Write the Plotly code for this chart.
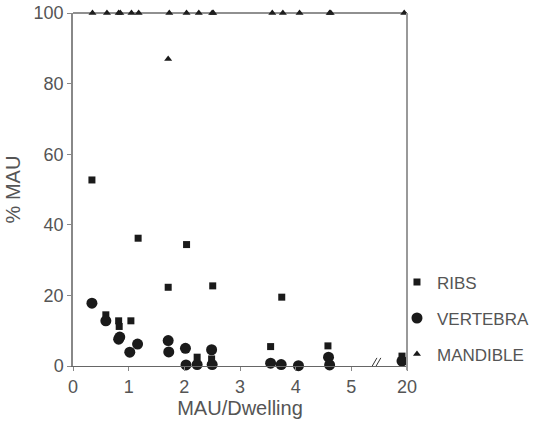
import plotly.graph_objects as go

# Data (x positions on a broken axis: tick "20" sits at position 6)
ribs_x = [0.34, 0.59, 0.82, 0.83, 1.04, 1.17, 1.71, 2.04, 2.23, 2.49, 2.51, 3.55, 3.75, 4.58, 5.91]
ribs_y = [52.7, 14.5, 12.8, 11.2, 12.8, 36.2, 22.3, 34.4, 2.5, 2.0, 22.7, 5.5, 19.5, 5.7, 2.8]

vert_x = [0.34, 0.59, 0.82, 0.84, 1.02, 1.16, 1.71, 1.72, 2.02, 2.03, 2.23, 2.49, 2.5, 3.55, 3.74, 4.05, 4.59, 4.61, 5.91]
vert_y = [17.8, 12.8, 7.6, 8.2, 3.9, 6.2, 7.2, 4.0, 5.0, 0.3, 0.4, 4.6, 0.4, 0.8, 0.4, 0.1, 2.5, 0.3, 1.4]

mand_x = [0.35, 0.61, 0.82, 0.85, 1.05, 1.18, 1.71, 1.73, 2.04, 2.26, 2.5, 2.52, 3.58, 3.77, 4.07, 4.61, 4.63, 5.95]
mand_y = [100, 100, 100, 100, 100, 100, 87, 100, 100, 100, 100, 100, 100, 100, 100, 100, 100, 100]

x_tickvals = [0, 1, 2, 3, 4, 5, 6]
x_ticktext = ["0", "1", "2", "3", "4", "5", "20"]
y_tickvals = [0, 20, 40, 60, 80, 100]

FONT = "Liberation Sans"
TXT = "#555555"
MK = "#1a1a1a"

fig = go.Figure()
fig.add_trace(go.Scatter(x=ribs_x, y=ribs_y, mode="markers", name="RIBS", legendgroup="a",
                         marker=dict(symbol="square", size=7, color=MK), cliponaxis=False))
fig.add_trace(go.Scatter(x=vert_x, y=vert_y, mode="markers", name="VERTEBRA", legendgroup="b",
                         marker=dict(symbol="circle", size=11, color=MK), cliponaxis=False))
fig.add_trace(go.Scatter(x=mand_x, y=mand_y, mode="markers", name="MANDIBLE", legendgroup="c",
                         marker=dict(symbol="triangle-up", size=7, color=MK), cliponaxis=False))

# frame lines
fig.add_shape(type="line", xref="paper", yref="paper", x0=0, x1=1, y0=1, y1=1,
              line=dict(color="#222", width=1.2))
fig.add_shape(type="line", xref="paper", yref="paper", x0=1, x1=1, y0=-0.012, y1=1,
              line=dict(color="#999", width=2))
# axis break marks
fig.add_shape(type="line", xref="x", yref="y", x0=5.35, y0=-0.7, x1=5.46, y1=2.3,
              line=dict(color="#333", width=1))
fig.add_shape(type="line", xref="x", yref="y", x0=5.42, y0=-0.7, x1=5.53, y1=2.3,
              line=dict(color="#333", width=1))

fig.update_layout(
    width=538, height=428,
    margin=dict(l=73, r=131, t=13, b=62, autoexpand=False),
    paper_bgcolor="white", plot_bgcolor="white",
    font=dict(family=FONT, color=TXT, size=18),
    showlegend=True,
    legend=dict(x=0.97, xanchor="left", y=0.135, yanchor="middle",
                font=dict(family=FONT, size=17, color=TXT),
                tracegroupgap=11, bgcolor="rgba(0,0,0,0)"),
    xaxis=dict(range=[0, 6], tickvals=x_tickvals, ticktext=x_ticktext,
               showgrid=False, zeroline=False, showline=True, linecolor="#666", linewidth=1.2,
               ticks="outside", ticklen=4, tickcolor="#888",
               tickfont=dict(size=18, color=TXT),
               title=dict(text="MAU/Dwelling", font=dict(size=20, color=TXT), standoff=4)),
    yaxis=dict(range=[0, 100], tickvals=y_tickvals,
               showgrid=False, zeroline=False, showline=True, linecolor="#888", linewidth=1.5,
               ticks="outside", ticklen=4, tickcolor="#888",
               tickfont=dict(size=18, color=TXT),
               title=dict(text="% MAU", font=dict(size=20, color=TXT), standoff=8)),
)

fig.write_html("out.html")
